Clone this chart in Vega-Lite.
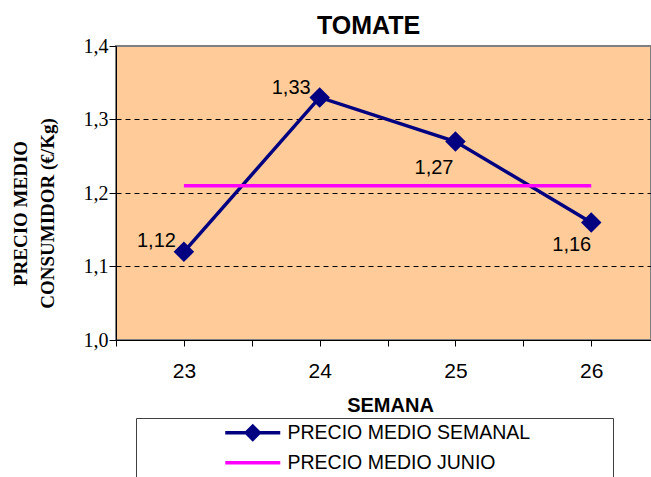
{
  "$schema": "https://vega.github.io/schema/vega-lite/v6.json",
  "width": 535,
  "height": 294,
  "autosize": "none",
  "padding": {"left": 116, "top": 46, "right": 0, "bottom": 137},
  "background": "white",
  "config": {
    "view": {"fill": "#FFCC99", "stroke": "#808080", "strokeWidth": 2},
    "font": "Arial",
    "locale": {"number": {"decimal": ",", "thousands": ".", "grouping": [3], "currency": ["", " €"]}}
  },
  "title": {
    "text": "TOMATE",
    "font": "Arial",
    "fontSize": 25,
    "fontWeight": "bold",
    "color": "black",
    "anchor": "middle",
    "dx": -15,
    "dy": 28,
    "offset": 0,
    "baseline": "bottom"
  },
  "data": {
    "values": [
      {"semana": 23, "serie": "PRECIO MEDIO SEMANAL", "precio": 1.12},
      {"semana": 24, "serie": "PRECIO MEDIO SEMANAL", "precio": 1.33},
      {"semana": 25, "serie": "PRECIO MEDIO SEMANAL", "precio": 1.27},
      {"semana": 26, "serie": "PRECIO MEDIO SEMANAL", "precio": 1.16},
      {"semana": 23, "serie": "PRECIO MEDIO JUNIO", "precio": 1.21},
      {"semana": 24, "serie": "PRECIO MEDIO JUNIO", "precio": 1.21},
      {"semana": 25, "serie": "PRECIO MEDIO JUNIO", "precio": 1.21},
      {"semana": 26, "serie": "PRECIO MEDIO JUNIO", "precio": 1.21}
    ]
  },
  "encoding": {
    "x": {
      "field": "semana",
      "type": "quantitative",
      "scale": {"domain": [22.5, 26.44], "nice": false, "zero": false},
      "axis": {
        "values": [22.5, 23, 23.5, 24, 24.5, 25, 25.5, 26],
        "format": ".0f",
        "labelExpr": "datum.value % 1 == 0 ? datum.label : ''",
        "grid": false,
        "domainColor": "black",
        "domainWidth": 1,
        "tickColor": "black",
        "tickSize": 6,
        "labelFont": "Arial",
        "labelFontSize": 21,
        "labelColor": "black",
        "labelBaseline": "alphabetic",
        "labelPadding": 31,
        "labelFlush": false,
        "labelOverlap": false,
        "title": "SEMANA",
        "titleFont": "Arial",
        "titleFontSize": 20,
        "titleFontWeight": "bold",
        "titleColor": "black",
        "titleBaseline": "alphabetic",
        "titleAnchor": null,
        "titleX": 274,
        "titleY": 71
      }
    },
    "y": {
      "field": "precio",
      "type": "quantitative",
      "scale": {"domain": [1.0, 1.4], "nice": false, "zero": false},
      "axis": {
        "values": [1.0, 1.1, 1.2, 1.3, 1.4],
        "format": ".1f",
        "grid": true,
        "gridColor": "black",
        "gridDash": [5, 4],
        "gridWidth": 1,
        "gridOpacity": {"condition": {"test": "datum.value < 1.05 || datum.value > 1.35", "value": 0}, "value": 1},
        "domainColor": "black",
        "domainWidth": 1,
        "tickColor": "black",
        "tickSize": 7,
        "labelFont": "Liberation Serif",
        "labelFontSize": 20,
        "labelColor": "black",
        "labelPadding": 1,
        "title": ["PRECIO MEDIO", "CONSUMIDOR  (€/Kg)"],
        "titleFont": "Liberation Serif",
        "titleFontSize": 19,
        "titleFontWeight": "bold",
        "titleColor": "black",
        "titleAngle": -90,
        "titleAlign": "center",
        "titleBaseline": "top",
        "titleLineHeight": 27,
        "titleAnchor": null,
        "titleX": -105,
        "titleY": 167
      }
    }
  },
  "layer": [
    {
      "mark": {"type": "line", "strokeWidth": 3.5},
      "encoding": {
        "color": {
          "field": "serie",
          "type": "nominal",
          "scale": {"domain": ["PRECIO MEDIO SEMANAL", "PRECIO MEDIO JUNIO"], "range": ["#000080", "#FF00FF"]},
          "legend": {
            "orient": "none",
            "legendX": 20,
            "legendY": 372,
            "title": " ",
            "titleOrient": "right",
            "titleFont": "Arial",
            "titleFontSize": 19,
            "titlePadding": 78,
            "labelFont": "Arial",
            "labelFontSize": 19.5,
            "labelColor": "black",
            "labelLimit": 600,
            "labelOffset": 5,
            "symbolOffset": 122,
            "symbolType": "M-9.5,0H1.5",
            "symbolSize": 100,
            "symbolStrokeWidth": 3.5,
            "rowPadding": 5,
            "padding": 5,
            "strokeColor": "#404040",
            "fillColor": "white",
            "encode": {
              "symbols": {
                "update": {
                  "shape": {"signal": "datum.value == 'PRECIO MEDIO SEMANAL' ? 'M-9.5,0H1.5M-4,-1.3L-2.7,0L-4,1.3L-5.3,0Z' : 'M-9.5,0H1.5'"},
                  "fill": {"signal": "datum.value == 'PRECIO MEDIO SEMANAL' ? '#000080' : 'transparent'"}
                }
              }
            }
          }
        }
      }
    },
    {
      "transform": [{"filter": "datum.serie == 'PRECIO MEDIO SEMANAL'"}],
      "mark": {"type": "point", "shape": "diamond", "filled": true, "size": 420, "opacity": 1, "color": "#000080"}
    },
    {
      "transform": [{"filter": "datum.serie == 'PRECIO MEDIO SEMANAL' && datum.semana == 23"}],
      "mark": {"type": "text", "align": "right", "baseline": "middle", "dx": -8, "dy": -11, "font": "Arial", "fontSize": 20, "color": "black"},
      "encoding": {"text": {"field": "precio", "type": "quantitative", "format": ".2f"}}
    },
    {
      "transform": [{"filter": "datum.serie == 'PRECIO MEDIO SEMANAL' && datum.semana == 24"}],
      "mark": {"type": "text", "align": "right", "baseline": "middle", "dx": -9, "dy": -9, "font": "Arial", "fontSize": 20, "color": "black"},
      "encoding": {"text": {"field": "precio", "type": "quantitative", "format": ".2f"}}
    },
    {
      "transform": [{"filter": "datum.serie == 'PRECIO MEDIO SEMANAL' && datum.semana == 25"}],
      "mark": {"type": "text", "align": "right", "baseline": "middle", "dx": -2, "dy": 26, "font": "Arial", "fontSize": 20, "color": "black"},
      "encoding": {"text": {"field": "precio", "type": "quantitative", "format": ".2f"}}
    },
    {
      "transform": [{"filter": "datum.serie == 'PRECIO MEDIO SEMANAL' && datum.semana == 26"}],
      "mark": {"type": "text", "align": "right", "baseline": "middle", "dx": 0, "dy": 23, "font": "Arial", "fontSize": 20, "color": "black"},
      "encoding": {"text": {"field": "precio", "type": "quantitative", "format": ".2f"}}
    }
  ]
}
